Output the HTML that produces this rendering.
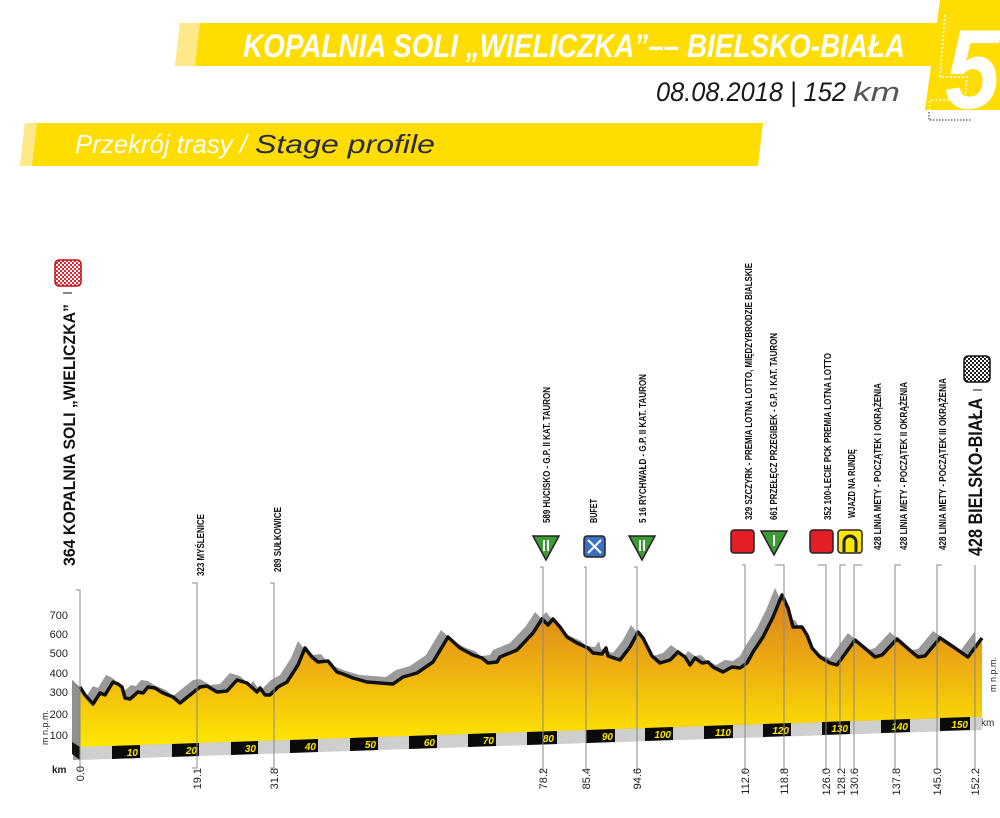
<!DOCTYPE html>
<html><head><meta charset="utf-8"><style>
html,body{margin:0;padding:0;background:#fff;}
svg{display:block;}
text{font-family:"Liberation Sans",sans-serif;}
</style></head><body>
<svg width="1000" height="818" viewBox="0 0 1000 818" xmlns="http://www.w3.org/2000/svg">
<defs>
<linearGradient id="gy" x1="0" y1="590" x2="0" y2="750" gradientUnits="userSpaceOnUse">
<stop offset="0" stop-color="#d67a1c"/>
<stop offset="0.45" stop-color="#ecab12"/>
<stop offset="1" stop-color="#ffea00"/>
</linearGradient>
<pattern id="chkR" width="4" height="4" patternUnits="userSpaceOnUse"><rect width="4" height="4" fill="#e8222a"/><rect width="2" height="2" fill="#fff"/><rect x="2" y="2" width="2" height="2" fill="#fff"/></pattern>
<pattern id="chkB" width="4" height="4" patternUnits="userSpaceOnUse"><rect width="4" height="4" fill="#222"/><rect width="2" height="2" fill="#fff"/><rect x="2" y="2" width="2" height="2" fill="#fff"/></pattern>
</defs>

<!-- header -->
<polygon points="180,23 975,23 970,66 175,66" fill="#ffdd00"/>
<polygon points="180,23 200,23 195,66 175,66" fill="#ffe88a"/>
<text x="243" y="57" font-size="32" font-weight="bold" font-style="italic" fill="#fff" textLength="662" lengthAdjust="spacingAndGlyphs">KOPALNIA SOLI „WIELICZKA”–– BIELSKO-BIAŁA</text>
<text x="656" y="101" font-size="27" font-style="italic" fill="#1a1a1a" textLength="190" lengthAdjust="spacingAndGlyphs">08.08.2018 | 152</text>
<text x="853" y="101" font-size="27" font-style="italic" fill="#555" textLength="47" lengthAdjust="spacingAndGlyphs">km</text>
<polygon points="940,0 1000,0 1000,110 925,110" fill="#ffdd00"/>
<text x="945" y="108" font-size="112" font-weight="bold" font-style="italic" fill="#fff" textLength="55" lengthAdjust="spacingAndGlyphs">5</text>
<polyline points="945,15 940,77 967,77 965,100 930,100 929,120 972,120" fill="none" stroke="#fff" stroke-width="1.5" stroke-dasharray="2,2"/>
<polyline points="929,112 929,120 972,120" fill="none" stroke="#222" stroke-width="1" stroke-dasharray="1.5,1.5"/>

<polygon points="25,123 763,123 758,166 20,166" fill="#ffdd00"/>
<polygon points="25,123 37,123 32,166 20,166" fill="#ffe88a"/>
<text x="75" y="153" font-size="26" font-style="italic" fill="#fff" textLength="172" lengthAdjust="spacingAndGlyphs">Przekrój trasy /</text>
<text x="255" y="153" font-size="26" font-style="italic" fill="#2a2a40" textLength="180" lengthAdjust="spacingAndGlyphs">Stage profile</text>

<!-- elevation axis -->
<g font-size="11" fill="#222" text-anchor="end">
<text x="68" y="619">700</text><text x="68" y="638">600</text><text x="68" y="657">500</text>
<text x="68" y="677">400</text><text x="68" y="696">300</text><text x="68" y="718">200</text><text x="68" y="739">100</text>
</g>
<text transform="translate(48,745) rotate(-90)" font-size="9" fill="#222">m n.p.m.</text>
<text transform="translate(996,692) rotate(-90)" font-size="9" fill="#222">m n.p.m.</text>
<text x="52" y="773" font-size="10" fill="#222" font-weight="bold">km</text>
<text x="981" y="726" font-size="10" fill="#222">km</text>

<!-- shadow profile -->
<g transform="translate(-7,-7)">
<polygon fill="#9a9a9a" points="80,767 80,687 85,695 93,704 100,693 105,695 113,682 118,684 122,687 125,698 130,699 138,692 143,693 148,687 155,688 163,693 168,695 173,697 180,703 190,695 200,687 207,686 217,692 227,691 237,680 247,683 257,692 260,688 265,695 270,695 278,687 287,682 298,665 305,648 312,657 318,662 328,661 337,672 343,674 353,678 367,682 380,683 393,684 403,677 417,673 433,662 448,637 460,648 473,655 482,658 488,663 497,662 500,657 517,650 533,633 542,619 548,625 553,619 560,627 567,637 577,643 588,648 593,653 602,654 606,648 608,656 620,660 630,647 638,632 643,638 652,656 660,663 670,660 678,652 685,657 690,665 695,658 702,663 708,662 713,667 723,672 732,667 740,668 747,663 753,652 763,637 773,617 782,595 788,608 793,627 802,627 807,635 812,648 820,657 830,663 837,665 855,640 867,650 875,657 882,655 897,639 913,653 918,657 925,656 940,638 955,648 962,653 968,657 982,638 982,730"/>
</g>
<polygon points="72,680 80,687 80,760 72,752" fill="#8f8f8f"/>
<!-- main profile -->
<polygon fill="url(#gy)" points="80,747 80,687 85,695 93,704 100,693 105,695 113,682 118,684 122,687 125,698 130,699 138,692 143,693 148,687 155,688 163,693 168,695 173,697 180,703 190,695 200,687 207,686 217,692 227,691 237,680 247,683 257,692 260,688 265,695 270,695 278,687 287,682 298,665 305,648 312,657 318,662 328,661 337,672 343,674 353,678 367,682 380,683 393,684 403,677 417,673 433,662 448,637 460,648 473,655 482,658 488,663 497,662 500,657 517,650 533,633 542,619 548,625 553,619 560,627 567,637 577,643 588,648 593,653 602,654 606,648 608,656 620,660 630,647 638,632 643,638 652,656 660,663 670,660 678,652 685,657 690,665 695,658 702,663 708,662 713,667 723,672 732,667 740,668 747,663 753,652 763,637 773,617 782,595 788,608 793,627 802,627 807,635 812,648 820,657 830,663 837,665 855,640 867,650 875,657 882,655 897,639 913,653 918,657 925,656 940,638 955,648 962,653 968,657 982,638 982,717"/>
<polyline fill="none" stroke="#111" stroke-width="3.5" stroke-linejoin="round" points="80,687 85,695 93,704 100,693 105,695 113,682 118,684 122,687 125,698 130,699 138,692 143,693 148,687 155,688 163,693 168,695 173,697 180,703 190,695 200,687 207,686 217,692 227,691 237,680 247,683 257,692 260,688 265,695 270,695 278,687 287,682 298,665 305,648 312,657 318,662 328,661 337,672 343,674 353,678 367,682 380,683 393,684 403,677 417,673 433,662 448,637 460,648 473,655 482,658 488,663 497,662 500,657 517,650 533,633 542,619 548,625 553,619 560,627 567,637 577,643 588,648 593,653 602,654 606,648 608,656 620,660 630,647 638,632 643,638 652,656 660,663 670,660 678,652 685,657 690,665 695,658 702,663 708,662 713,667 723,672 732,667 740,668 747,663 753,652 763,637 773,617 782,595 788,608 793,627 802,627 807,635 812,648 820,657 830,663 837,665 855,640 867,650 875,657 882,655 897,639 913,653 918,657 925,656 940,638 955,648 962,653 968,657 982,638"/>

<!-- km bar -->
<polygon points="72,742 80,747 80,760 72,754" fill="#111"/>
<polygon points="80,747 982,717 982,730 80,760" fill="#cfcfcf"/>
<g fill="#0a0a0a">
<polygon points="112,746 140,745 140,758 112,759"/>
<polygon points="172,744 199,743 199,756 172,757"/>
<polygon points="231,742 258,741 258,754 231,755"/>
<polygon points="290,740 318,739 318,752 290,753"/>
<polygon points="350,738 378,737 378,750 350,751"/>
<polygon points="409,736 437,735 437,748 409,749"/>
<polygon points="468,734 496,733 496,746 468,747"/>
<polygon points="527,732 557,731 557,744 527,745"/>
<polygon points="586,730 615,729 615,742 586,743"/>
<polygon points="645,728 673,727 673,740 645,741"/>
<polygon points="704,726 733,725 733,738 704,739"/>
<polygon points="763,724 791,723 791,736 763,737"/>
<polygon points="822,722 850,721 850,734 822,735"/>
<polygon points="881,720 910,719 910,732 881,733"/>
<polygon points="940,718 970,717 970,730 940,731"/>
</g>
<g font-size="10" font-weight="bold" font-style="italic" fill="#ffe600" text-anchor="end">
<text x="138" y="756">10</text><text x="197" y="754">20</text><text x="256" y="752">30</text>
<text x="316" y="750">40</text><text x="376" y="748">50</text><text x="435" y="746">60</text>
<text x="494" y="744">70</text><text x="554" y="742">80</text><text x="613" y="740">90</text>
<text x="671" y="738">100</text><text x="731" y="736">110</text><text x="789" y="734">120</text>
<text x="848" y="732">130</text><text x="908" y="730">140</text><text x="968" y="728">150</text>
</g>

<!-- marker lines -->
<g stroke="#888" stroke-width="1" fill="none">
<polyline points="76,590 80,590 80,772"/>
<polyline points="192,583 197,583 197,768 192,768"/>
<polyline points="270,583 274,583 274,768 270,768"/>
<polyline points="540,567 543,567 543,772 539,772"/>
<polyline points="584,567 586,567 586,770 582,770"/>
<polyline points="634,567 637,567 637,770 633,770"/>
<polyline points="742,565 745,565 745,772 742,772"/>
<polyline points="775,565 784,565 784,770 780,770"/>
<polyline points="818,565 826,565 826,770 822,770"/>
<polyline points="846,565 840,565 840,770"/>
<polyline points="862,565 854,565 854,770"/>
<polyline points="901,565 895,565 895,770"/>
<polyline points="942,565 937,565 937,770"/>
<polyline points="975,565 975,770 975,770"/>
</g>

<!-- km markers below -->
<g font-size="11" fill="#222" text-anchor="end">
<text transform="translate(84,766) rotate(-90)">0.0</text>
<text transform="translate(201,768) rotate(-90)">19.1</text>
<text transform="translate(278,768) rotate(-90)">31.8</text>
<text transform="translate(547,768) rotate(-90)">78.2</text>
<text transform="translate(590,768) rotate(-90)">85.4</text>
<text transform="translate(641,768) rotate(-90)">94.6</text>
<text transform="translate(749,768) rotate(-90)">112.0</text>
<text transform="translate(788,768) rotate(-90)">118.8</text>
<text transform="translate(830,768) rotate(-90)">126.0</text>
<text transform="translate(845,768) rotate(-90)">128.2</text>
<text transform="translate(858,768) rotate(-90)">130.6</text>
<text transform="translate(900,768) rotate(-90)">137.8</text>
<text transform="translate(941,768) rotate(-90)">145.0</text>
<text transform="translate(979,768) rotate(-90)">152.2</text>
</g>

<!-- top labels -->
<g font-weight="bold" fill="#111">
<text transform="translate(75,566) rotate(-90)" font-size="17" textLength="262" lengthAdjust="spacingAndGlyphs">364 KOPALNIA SOLI „WIELICZKA”</text>
<text transform="translate(204,576) rotate(-90)" font-size="10" textLength="62" lengthAdjust="spacingAndGlyphs">323 MYŚLENICE</text>
<text transform="translate(281,572) rotate(-90)" font-size="10" textLength="65" lengthAdjust="spacingAndGlyphs">289 SUŁKOWICE</text>
<text transform="translate(550,523) rotate(-90)" font-size="10" textLength="136" lengthAdjust="spacingAndGlyphs">589 HUCISKO - G.P. II KAT. TAURON</text>
<text transform="translate(597,523) rotate(-90)" font-size="10" textLength="24" lengthAdjust="spacingAndGlyphs">BUFET</text>
<text transform="translate(646,523) rotate(-90)" font-size="10" textLength="149" lengthAdjust="spacingAndGlyphs">5 16 RYCHWAŁD - G.P. II KAT. TAURON</text>
<text transform="translate(752,520) rotate(-90)" font-size="10" textLength="257" lengthAdjust="spacingAndGlyphs">329 SZCZYRK - PREMIA LOTNA LOTTO, MIĘDZYBRODZIE BIALSKIE</text>
<text transform="translate(777,520) rotate(-90)" font-size="10" textLength="187" lengthAdjust="spacingAndGlyphs">661 PRZEŁĘCZ PRZEGIBEK - G.P. I KAT. TAURON</text>
<text transform="translate(831,520) rotate(-90)" font-size="10" textLength="167" lengthAdjust="spacingAndGlyphs">352 100-LECIE PCK PREMIA LOTNA LOTTO</text>
<text transform="translate(855,518) rotate(-90)" font-size="10" textLength="69" lengthAdjust="spacingAndGlyphs">WJAZD NA RUNDĘ</text>
<text transform="translate(881,550) rotate(-90)" font-size="10" textLength="167" lengthAdjust="spacingAndGlyphs">428 LINIA METY - POCZĄTEK I OKRĄŻENIA</text>
<text transform="translate(907,550) rotate(-90)" font-size="10" textLength="168" lengthAdjust="spacingAndGlyphs">428 LINIA METY - POCZĄTEK II OKRĄŻENIA</text>
<text transform="translate(946,550) rotate(-90)" font-size="10" textLength="172" lengthAdjust="spacingAndGlyphs">428 LINIA METY - POCZĄTEK III OKRĄŻENIA</text>
<text transform="translate(982,556) rotate(-90)" font-size="19" textLength="158" lengthAdjust="spacingAndGlyphs">428 BIELSKO-BIAŁA</text>
</g>

<!-- flags -->
<rect x="55" y="260" width="26" height="26" rx="4" fill="url(#chkR)" stroke="#c01018" stroke-width="1.5"/>
<line x1="63" y1="293" x2="72" y2="293" stroke="#111" stroke-width="1"/>
<rect x="964" y="356" width="26" height="26" rx="4" fill="url(#chkB)" stroke="#111" stroke-width="1.5"/>
<line x1="973" y1="390" x2="982" y2="390" stroke="#111" stroke-width="1"/>

<!-- icons -->
<g stroke="#222" stroke-width="1.5">
<polygon points="533,536 559,536 546,560" fill="#3d9b35"/>
<polygon points="629,536 655,536 642,560" fill="#3d9b35"/>
<polygon points="761,531 787,531 774,555" fill="#3d9b35"/>
<rect x="584" y="536" width="21" height="21" rx="3" fill="#3a6fc4"/>
<rect x="731" y="530" width="23" height="23" rx="3" fill="#e41e26"/>
<rect x="810" y="530" width="23" height="23" rx="3" fill="#e41e26"/>
<rect x="838" y="530" width="24" height="23" rx="3" fill="#ffe600"/>
</g>
<g stroke="#fff" stroke-width="2">
<line x1="544" y1="540" x2="544" y2="551"/><line x1="548" y1="540" x2="548" y2="551"/>
<line x1="640" y1="540" x2="640" y2="551"/><line x1="644" y1="540" x2="644" y2="551"/>
<line x1="774" y1="535" x2="774" y2="546"/>
<line x1="588" y1="540" x2="601" y2="553"/><line x1="601" y1="540" x2="588" y2="553"/>
</g>
<path d="M844,552 V542 a6,6 0 0 1 12,0 V552" fill="none" stroke="#222" stroke-width="3"/>
</svg>
</body></html>
